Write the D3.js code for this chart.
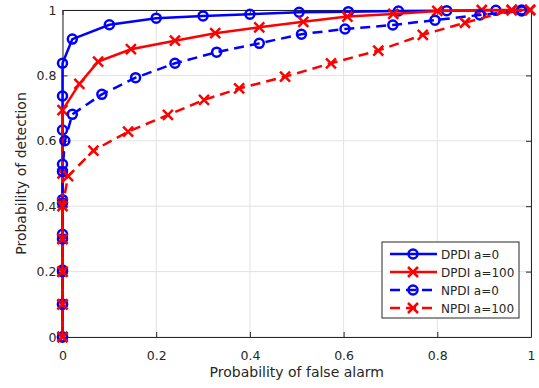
<!DOCTYPE html>
<html>
<head>
<meta charset="utf-8">
<script src="https://cdn.jsdelivr.net/npm/d3@7"></script>
<style>
body { margin: 0; background: #fff; }
text { font-family: "DejaVu Sans", "Liberation Sans", Arial, sans-serif; fill: #262626; }
</style>
</head>
<body>
<svg id="roc" width="539" height="388"></svg>
<script>
// series: probability of false alarm (x) / probability of detection (y)
var dpdi0X = [0,0,0,0,0,0,0,0,0,0.021,0.1,0.2,0.3,0.4,0.505,0.61,0.717,0.82,0.925,0.98]
var dpdi0Y = [0,0.1,0.205,0.314,0.42,0.528,0.633,0.737,0.837,0.911,0.955,0.975,0.982,0.987,0.993,0.995,0.997,0.998,0.999,1]
var dpdi100X = [0,0,0,0,0,0,0,0.036,0.076,0.146,0.24,0.326,0.42,0.514,0.608,0.706,0.8,0.895,0.959,0.998]
var dpdi100Y = [0,0.1,0.2,0.3,0.41,0.5,0.694,0.774,0.842,0.88,0.906,0.929,0.947,0.964,0.98,0.988,0.997,1,1,1]
var npdi0X = [0,0,0,0,0,0,0.005,0.021,0.084,0.156,0.24,0.329,0.42,0.51,0.603,0.705,0.795,0.891,0.98]
var npdi0Y = [0,0.1,0.2,0.3,0.41,0.506,0.6,0.681,0.742,0.793,0.837,0.871,0.898,0.926,0.942,0.954,0.969,0.985,0.997]
var npdi100X = [0,0,0,0,0,0.012,0.066,0.14,0.225,0.302,0.377,0.475,0.573,0.674,0.769,0.859,0.959,0.998]
var npdi100Y = [0,0.1,0.2,0.3,0.4,0.492,0.57,0.628,0.679,0.725,0.76,0.796,0.837,0.876,0.924,0.961,1,1]
var legendNames = ["DPDI a=0","DPDI a=100","NPDI a=0","NPDI a=100"]
var xTicks = [0,0.2,0.4,0.6,0.8,1]
var yTicks = [0,0.2,0.4,0.6,0.8,1]

var series = [
  {name: legendNames[0], xs: dpdi0X, ys: dpdi0Y, color: "#0000ff", dash: null, marker: "o"},
  {name: legendNames[1], xs: dpdi100X, ys: dpdi100Y, color: "#ff0000", dash: null, marker: "x"},
  {name: legendNames[2], xs: npdi0X, ys: npdi0Y, color: "#0000ff", dash: "10,6", marker: "o"},
  {name: legendNames[3], xs: npdi100X, ys: npdi100Y, color: "#ff0000", dash: "10,6", marker: "x"}
]

var svg = d3.select("#roc")
var pLeft = 62.5, pRight = 531, pTop = 10, pBottom = 337
var x = d3.scaleLinear().domain([0,1]).range([pLeft,pRight])
var y = d3.scaleLinear().domain([0,1]).range([pBottom,pTop])

// grid
svg.append("g").selectAll("line").data(xTicks).enter().append("line")
  .attr("x1", d => x(d)).attr("x2", d => x(d)).attr("y1", pTop).attr("y2", pBottom)
  .attr("stroke", "#e3e3e3").attr("stroke-width", 1)
svg.append("g").selectAll("line").data(yTicks).enter().append("line")
  .attr("y1", d => y(d)).attr("y2", d => y(d)).attr("x1", pLeft).attr("x2", pRight)
  .attr("stroke", "#e3e3e3").attr("stroke-width", 1)

// axes (matlab style ticks inside)
svg.append("g").attr("transform", "translate(0," + pBottom + ")")
  .call(d3.axisBottom(x).tickValues(xTicks).tickFormat(d3.format("~g")).tickSizeInner(-5).tickSizeOuter(0).tickPadding(14))
svg.append("g").attr("transform", "translate(" + pLeft + ",0)")
  .call(d3.axisLeft(y).tickValues(yTicks).tickFormat(d3.format("~g")).tickSizeInner(-5).tickSizeOuter(0).tickPadding(6))
svg.append("g").attr("transform", "translate(0," + pTop + ")")
  .call(d3.axisTop(x).tickValues(xTicks).tickFormat("").tickSizeInner(-5).tickSizeOuter(0))
svg.append("g").attr("transform", "translate(" + pRight + ",0)")
  .call(d3.axisRight(y).tickValues(yTicks).tickFormat("").tickSizeInner(-5).tickSizeOuter(0))
svg.selectAll(".domain, .tick line").attr("stroke", "#262626")
svg.selectAll(".tick text").attr("font-size", 12.5).style("fill", "#262626")
  .attr("font-family", "DejaVu Sans, sans-serif")

// lines + markers
var line = d3.line().x(d => x(d[0])).y(d => y(d[1]))
function drawMarker(g, kind, color) {
  if (kind == "o") {
    g.append("circle").attr("r", 4.5).attr("fill", "none").attr("stroke", color).attr("stroke-width", 2.5)
  } else {
    g.append("path").attr("d", "M-5,-5L5,5M-5,5L5,-5").attr("stroke", color).attr("stroke-width", 2.5)
  }
}
series.forEach(function (s) {
  var pts = s.xs.map((v, i) => [v, s.ys[i]])
  svg.append("path").attr("d", line(pts)).attr("fill", "none")
    .attr("stroke", s.color).attr("stroke-width", 2.5)
    .attr("stroke-dasharray", s.dash)
  svg.append("g").selectAll("g").data(pts).enter().append("g")
    .attr("transform", d => "translate(" + x(d[0]) + "," + y(d[1]) + ")")
    .each(function () { drawMarker(d3.select(this), s.marker, s.color) })
})

// labels
svg.append("text").attr("x", (pLeft + pRight) / 2).attr("y", 377).attr("text-anchor", "middle")
  .attr("font-size", 14).text("Probability of false alarm")
svg.append("text").attr("transform", "translate(26," + (pTop + pBottom) / 2 + ") rotate(-90)")
  .attr("text-anchor", "middle").attr("font-size", 14).text("Probability of detection")

// legend
var lg = svg.append("g").attr("transform", "translate(382,242)")
lg.append("rect").attr("width", 137).attr("height", 76).attr("fill", "#fff")
  .attr("stroke", "#262626").attr("stroke-width", 1)
series.forEach(function (s, i) {
  var ry = 12 + i * 18
  lg.append("line").attr("x1", 8).attr("x2", 55).attr("y1", ry).attr("y2", ry)
    .attr("stroke", s.color).attr("stroke-width", 2.5).attr("stroke-dasharray", s.dash)
  var m = lg.append("g").attr("transform", "translate(31," + ry + ")")
  drawMarker(m, s.marker, s.color)
  lg.append("text").attr("x", 59).attr("y", ry + 4.5).attr("font-size", 12).text(s.name)
})
</script>
</body>
</html>
